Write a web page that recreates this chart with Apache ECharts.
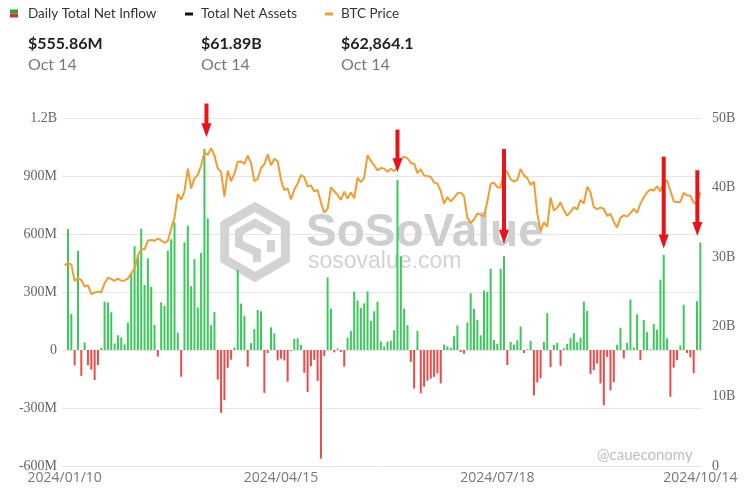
<!DOCTYPE html>
<html><head><meta charset="utf-8">
<script src="https://cdn.jsdelivr.net/npm/echarts/dist/echarts.min.js"></script>
<style>html,body{margin:0;padding:0;background:#fff}#c{width:756px;height:493px}</style>
</head><body><div id="c"></div>
<script>
const dates = ['2024/01/10','2024/01/11','2024/01/12','2024/01/16','2024/01/17','2024/01/18','2024/01/19','2024/01/22','2024/01/23','2024/01/24','2024/01/25','2024/01/26','2024/01/29','2024/01/30','2024/01/31',
'2024/02/01','2024/02/02','2024/02/05','2024/02/06','2024/02/07','2024/02/08','2024/02/09','2024/02/12','2024/02/13','2024/02/14','2024/02/15','2024/02/16','2024/02/20','2024/02/21','2024/02/22','2024/02/23','2024/02/26','2024/02/27','2024/02/28','2024/02/29',
'2024/03/01','2024/03/04','2024/03/05','2024/03/06','2024/03/07','2024/03/08','2024/03/11','2024/03/12','2024/03/13','2024/03/14','2024/03/15','2024/03/18','2024/03/19','2024/03/20','2024/03/21','2024/03/22','2024/03/25','2024/03/26','2024/03/27','2024/03/28',
'2024/04/01','2024/04/02','2024/04/03','2024/04/04','2024/04/05','2024/04/08','2024/04/09','2024/04/10','2024/04/11','2024/04/12','2024/04/15','2024/04/16','2024/04/17','2024/04/18','2024/04/19','2024/04/22','2024/04/23','2024/04/24','2024/04/25','2024/04/26','2024/04/29','2024/04/30',
'2024/05/01','2024/05/02','2024/05/03','2024/05/06','2024/05/07','2024/05/08','2024/05/09','2024/05/10','2024/05/13','2024/05/14','2024/05/15','2024/05/16','2024/05/17','2024/05/20','2024/05/21','2024/05/22','2024/05/23','2024/05/24','2024/05/28','2024/05/29','2024/05/30','2024/05/31',
'2024/06/03','2024/06/04','2024/06/05','2024/06/06','2024/06/07','2024/06/10','2024/06/11','2024/06/12','2024/06/13','2024/06/14','2024/06/17','2024/06/18','2024/06/20','2024/06/21','2024/06/24','2024/06/25','2024/06/26','2024/06/27','2024/06/28',
'2024/07/01','2024/07/02','2024/07/03','2024/07/05','2024/07/08','2024/07/09','2024/07/10','2024/07/11','2024/07/12','2024/07/15','2024/07/16','2024/07/17','2024/07/18','2024/07/19','2024/07/22','2024/07/23','2024/07/24','2024/07/25','2024/07/26','2024/07/29','2024/07/30','2024/07/31',
'2024/08/01','2024/08/02','2024/08/05','2024/08/06','2024/08/07','2024/08/08','2024/08/09','2024/08/12','2024/08/13','2024/08/14','2024/08/15','2024/08/16','2024/08/19','2024/08/20','2024/08/21','2024/08/22','2024/08/23','2024/08/26','2024/08/27','2024/08/28','2024/08/29','2024/08/30',
'2024/09/03','2024/09/04','2024/09/05','2024/09/06','2024/09/09','2024/09/10','2024/09/11','2024/09/12','2024/09/13','2024/09/16','2024/09/17','2024/09/18','2024/09/19','2024/09/20','2024/09/23','2024/09/24','2024/09/25','2024/09/26','2024/09/27','2024/09/30',
'2024/10/01','2024/10/02','2024/10/03','2024/10/04','2024/10/07','2024/10/08','2024/10/09','2024/10/10','2024/10/11','2024/10/14'];

// Daily total net inflow, $M
const netInflow = [0,625,186,-80,512,-134,39,-78,-102,-155,-78,11,250,246,195,
 34,76,64,29,141,397,537,490,628,336,474,326,130,-34,247,228,514,573,660,90,
 -138,557,644,330,470,220,502,1040,680,128,196,-153,-325,-260,-92,-50,13,415,240,177,
 -86,36,108,207,200,-222,-16,117,86,-54,-45,-54,-164,-4,58,60,26,-118,-217,-84,-51,-160,
 -562,-32,376,214,-12,8,-10,-86,64,98,302,256,218,241,303,150,200,250,44,18,44,48,
 102,880,485,214,128,-62,-199,99,-224,-190,-159,-148,-139,-121,-173,28,19,12,71,
 127,-11,-19,142,294,214,155,76,308,301,420,52,32,420,485,-78,42,28,50,122,-16,4,
 48,-235,-168,-147,42,191,-89,27,37,-82,9,31,61,87,40,64,250,202,-124,-104,-70,-173,
 -286,-36,-209,-166,27,115,-43,37,261,13,185,-52,155,92,4,134,105,364,492,60,
 -242,-91,-53,24,234,-15,-38,-120,252,556];

// BTC price, USD
const btcPrice = [46120,46630,46340,42510,43150,42740,41260,41580,39510,39850,40080,39930,42030,43300,42940,
 42580,43080,42580,42660,43090,44320,45300,48300,49960,49740,51830,51940,51780,52280,51850,51320,51730,54520,57090,62500,
 61200,63110,68330,63800,66110,66930,69020,72120,71480,73080,71400,68390,67610,61930,67910,65490,67210,69960,69990,69460,
 71330,69700,65450,65980,68510,69360,71630,69140,70590,70060,65740,63420,63810,61280,63510,64940,66840,66410,64280,64500,63120,63440,
 60610,58250,59120,64030,63160,62330,61190,63070,61480,62900,61550,66270,65230,66280,71450,70140,69120,67930,68520,68360,67630,68360,
 67760,68800,70570,71080,70760,69650,69500,67310,68240,66760,66640,66490,65140,64960,63180,60280,61800,60860,61670,
 62680,62850,62050,57040,55860,56710,58050,57720,57340,60790,64870,65100,64100,63970,68160,67590,65930,65370,65780,68250,66810,66180,
 64620,65360,58120,53990,56030,55030,61710,58720,59350,60610,58740,57560,58430,59490,59010,61160,60380,64180,62880,59500,59030,59390,
 59130,57480,57970,56160,54840,57050,57650,57340,58130,59130,58210,60310,61760,62950,63580,63330,64300,63140,65180,65640,
 63330,60840,60630,60750,62820,62220,62130,60580,60270,62864];

const xLabelDates = ['2024/01/10','2024/04/15','2024/07/18','2024/10/14'];
const leftTicks = [-600,-300,0,300,600,900,1200];
const leftTickLabels = ['-600M','-300M','0','300M','600M','900M','1.2B'];
const rightTicks = [0,10,20,30,40,50];
const rightTickLabels = ['0','10B','20B','30B','40B','50B'];

const legendNames = ['Daily Total Net Inflow','Total Net Assets','BTC Price'];
const legendValues = ['$555.86M','$61.89B','$62,864.1'];
const legendDates = ['Oct 14','Oct 14','Oct 14'];

// annotation arrows (category date, start and tip on the left axis, $M)
const arrowDates = ['2024/03/12','2024/06/04','2024/07/22','2024/09/27','2024/10/14'];
const arrowFrom = [1275,1140,1040,1000,930];
const arrowTo = [1100,920,550,525,590];

const GREEN = '#3bc95b', RED = '#f04a48', ORANGE = '#f39c2f';

const chart = echarts.init(document.getElementById('c'));
chart.setOption({
  animation: false,
  grid: {left: 63, right: 54, top: 118, bottom: 27},
  xAxis: {
    type: 'category', data: dates, boundaryGap: true,
    axisLine: {show: false}, axisTick: {show: false},
    axisLabel: {interval: (i, v) => xLabelDates.includes(v), color: '#777', fontSize: 14, fontFamily: 'Open Sans', margin: 5}
  },
  yAxis: [
    {type: 'value', min: -600, max: 1200, interval: 300,
     axisLine: {show: false}, axisTick: {show: false},
     axisLabel: {formatter: v => leftTickLabels[leftTicks.indexOf(v)], fontFamily: 'Liberation Serif', fontSize: 14, color: '#666', margin: 6},
     splitLine: {lineStyle: {color: '#e6e6e6'}}},
    {type: 'value', position: 'right', min: 0, max: 50, interval: 10,
     axisLine: {show: false}, axisTick: {show: false},
     axisLabel: {formatter: v => rightTickLabels[rightTicks.indexOf(v)], fontFamily: 'Liberation Serif', fontSize: 14, color: '#666', margin: 10},
     splitLine: {show: false}},
    {type: 'value', min: 0, max: 80000, show: false}
  ],
  series: [
    {name: legendNames[0], type: 'bar', yAxisIndex: 0, barWidth: 2,
     data: netInflow.map(v => ({value: v, itemStyle: {color: v >= 0 ? GREEN : RED}}))},
    {name: legendNames[1], type: 'line', yAxisIndex: 1, data: []},
    {name: legendNames[2], type: 'line', yAxisIndex: 2, data: btcPrice, showSymbol: false, smooth: false,
     lineStyle: {width: 2, color: ORANGE}, itemStyle: {color: ORANGE}, z: 3}
  ]
});

// watermark, legend, arrows
const g = [];
const cx = 255, cy = 242, R = 35;
const hex = [];
for (let k = 0; k < 6; k++) { const a = (-90 + 60 * k) * Math.PI / 180; hex.push([cx + R * Math.cos(a), cy + R * Math.sin(a)]); }
g.push({type: 'polygon', z: 1, shape: {points: hex}, style: {fill: null, stroke: '#d3d3d3', lineWidth: 9, lineJoin: 'miter'}});
g.push({type: 'polyline', z: 1, shape: {points: [[cx + 16, cy - 10], [cx, cy - 19], [cx - 16, cy - 10], [cx - 16, cy + 2], [cx + 2, cy + 10], [cx + 2, cy + 20]]}, style: {stroke: '#d3d3d3', lineWidth: 8, fill: null}});
g.push({type: 'polyline', z: 1, shape: {points: [[cx + 16, cy - 2], [cx + 16, cy + 10]]}, style: {stroke: '#d3d3d3', lineWidth: 8, fill: null}});
g.push({type: 'text', z: 1, x: 306, y: 233, style: {text: 'SoSoValue', font: 'bold 46px "Liberation Sans"', fill: '#cfcfcf', verticalAlign: 'middle'}});
g.push({type: 'text', z: 1, x: 308, y: 262, style: {text: 'sosovalue.com', font: '23px "Liberation Sans"', fill: '#d2d2d2', verticalAlign: 'middle'}});
g.push({type: 'text', z: 1, x: 597, y: 455, style: {text: '@caueconomy', font: '15px Lato', fill: '#bdbdbd', verticalAlign: 'middle'}});

// legend block
const lx = [10, 185, 325], tx = [28, 201, 341];
g.push({type: 'rect', shape: {x: lx[0], y: 9.5, width: 8, height: 4}, style: {fill: '#2e9c48'}});
g.push({type: 'rect', shape: {x: lx[0], y: 13.5, width: 8, height: 4}, style: {fill: '#dc3129'}});
g.push({type: 'rect', shape: {x: lx[1], y: 12.5, width: 8, height: 3}, style: {fill: '#111'}});
g.push({type: 'rect', shape: {x: lx[2], y: 12.5, width: 8, height: 3}, style: {fill: '#f5a02a'}});
for (let k = 0; k < 3; k++) {
  g.push({type: 'text', x: tx[k], y: 14, style: {text: legendNames[k], font: '13.5px Lato', fill: '#333', verticalAlign: 'middle'}});
  g.push({type: 'text', x: tx[k], y: 43.5, style: {text: legendValues[k], font: 'bold 16px Lato', fill: '#222', verticalAlign: 'middle'}});
  g.push({type: 'text', x: tx[k], y: 64.5, style: {text: legendDates[k], font: '16px Lato', fill: '#777', verticalAlign: 'middle'}});
}

const arrowDx = [2, 0, 0, 0, -3];
arrowDates.forEach((d, k) => {
  const p1 = chart.convertToPixel({xAxisIndex: 0, yAxisIndex: 0}, [d, arrowFrom[k]]);
  const p2 = chart.convertToPixel({xAxisIndex: 0, yAxisIndex: 0}, [d, arrowTo[k]]);
  const x = p1[0] + arrowDx[k], hh = 14, hw = 5;
  g.push({type: 'line', z: 100, shape: {x1: x, y1: p1[1], x2: x, y2: p2[1] - hh + 1}, style: {stroke: '#e8141a', lineWidth: 4}});
  g.push({type: 'polygon', z: 100, shape: {points: [[x - hw, p2[1] - hh], [x + hw, p2[1] - hh], [x, p2[1]]]}, style: {fill: '#e8141a'}});
});
chart.setOption({graphic: g});
</script></body></html>
